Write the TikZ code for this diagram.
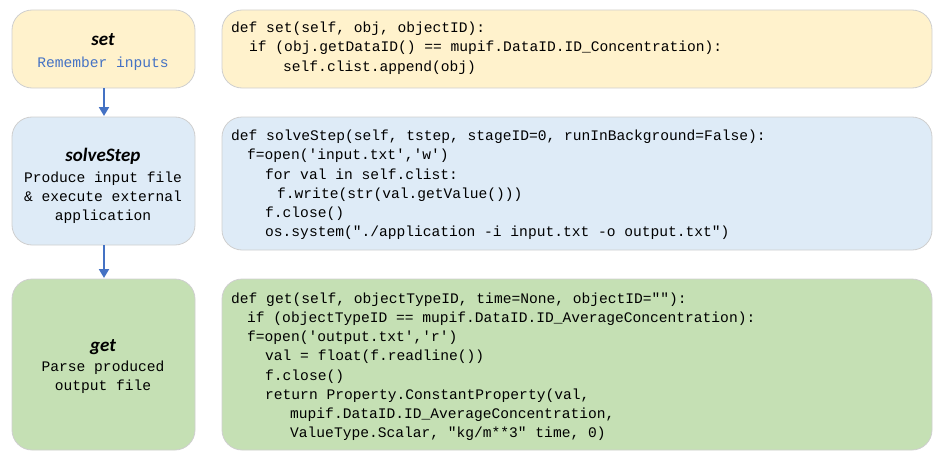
\documentclass[tikz,border=0pt]{standalone}
\usepackage{fontspec}
\setmainfont{Carlito}
\setmonofont{Liberation Mono}
\usetikzlibrary{arrows.meta}
\definecolor{yel}{HTML}{FFF2CC}
\definecolor{blu}{HTML}{DEEBF7}
\definecolor{grn}{HTML}{C5E0B4}
\definecolor{edge}{HTML}{CFCFCF}
\definecolor{arr}{HTML}{4472C4}
\begin{document}
\begin{tikzpicture}[x=1pt,y=-1pt,
  box/.style={draw=edge,line width=0.8pt,rounded corners=20pt},
  code/.style={anchor=base west,inner sep=0pt,font=\fontsize{14.6}{17}\ttfamily},
  desc/.style={anchor=base,inner sep=0pt,font=\fontsize{14.6}{17}\ttfamily},
  ttl/.style={anchor=base,inner sep=0pt,font=\fontsize{19}{22}\selectfont\bfseries\itshape},
  conn/.style={draw=arr,line width=2pt,-{Triangle[length=9pt,width=10pt]}}]
\useasboundingbox (0,0) rectangle (942,460);
% left boxes
\draw[box,fill=yel] (12,10) rectangle (195,88);
\draw[box,fill=blu] (12,117) rectangle (195,245);
\draw[box,fill=grn] (12,279) rectangle (195,450);
\coordinate (b1) at (104,88); \coordinate (t2) at (104,116);
\coordinate (b2) at (104,245); \coordinate (t3) at (104,278);
\draw[conn] (b1) -- (t2);
\draw[conn] (b2) -- (t3);
% right boxes
\draw[box,fill=yel] (222,10) rectangle (932,88);
\draw[box,fill=blu] (222,117) rectangle (932,250);
\draw[box,fill=grn] (222,279) rectangle (932,450);
% left texts
\node[ttl] (n1) at (103,46) {set};
\node[desc,text=arr] (n1d) at (103,67) {Remember inputs};
\node[ttl] (n2) at (103,161) {solveStep};
\node[desc] (n2a) at (103,182) {Produce input file};
\node[desc] (n2b) at (103,201) {\& execute external};
\node[desc] (n2c) at (103,220) {application};
\node[ttl] (n3) at (103,351) {get};
\node[desc] (n3a) at (103,371) {Parse produced};
\node[desc] (n3b) at (103,390) {output file};
% code 1
\node[code] (c11) at (231,33) {def set(self, obj, objectID):};
\node[code] (c12) at (249,52) {if (obj.getDataID() == mupif.DataID.ID\_Concentration):};
\node[code] (c13) at (283,71) {self.clist.append(obj)};
% code 2
\node[code] (c21) at (231,140) {def solveStep(self, tstep, stageID=0, runInBackground=False):};
\node[code] (c22) at (247,159) {f=open('input.txt','w')};
\node[code] (c23) at (265,179) {for val in self.clist:};
\node[code] (c24) at (277,198) {f.write(str(val.getValue()))};
\node[code] (c25) at (265,217) {f.close()};
\node[code] (c26) at (265,236) {os.system("./application -i input.txt -o output.txt")};
% code 3
\node[code] (c31) at (231,303) {def get(self, objectTypeID, time=None, objectID=""):};
\node[code] (c32) at (247,322) {if (objectTypeID == mupif.DataID.ID\_AverageConcentration):};
\node[code] (c33) at (247,341) {f=open('output.txt','r')};
\node[code] (c34) at (265,360) {val = float(f.readline())};
\node[code] (c35) at (265,380) {f.close()};
\node[code] (c36) at (265,399) {return Property.ConstantProperty(val,};
\node[code] (c37) at (290,418) {mupif.DataID.ID\_AverageConcentration,};
\node[code] (c38) at (290,437) {ValueType.Scalar, "kg/m**3" time, 0)};
\end{tikzpicture}
\end{document}
